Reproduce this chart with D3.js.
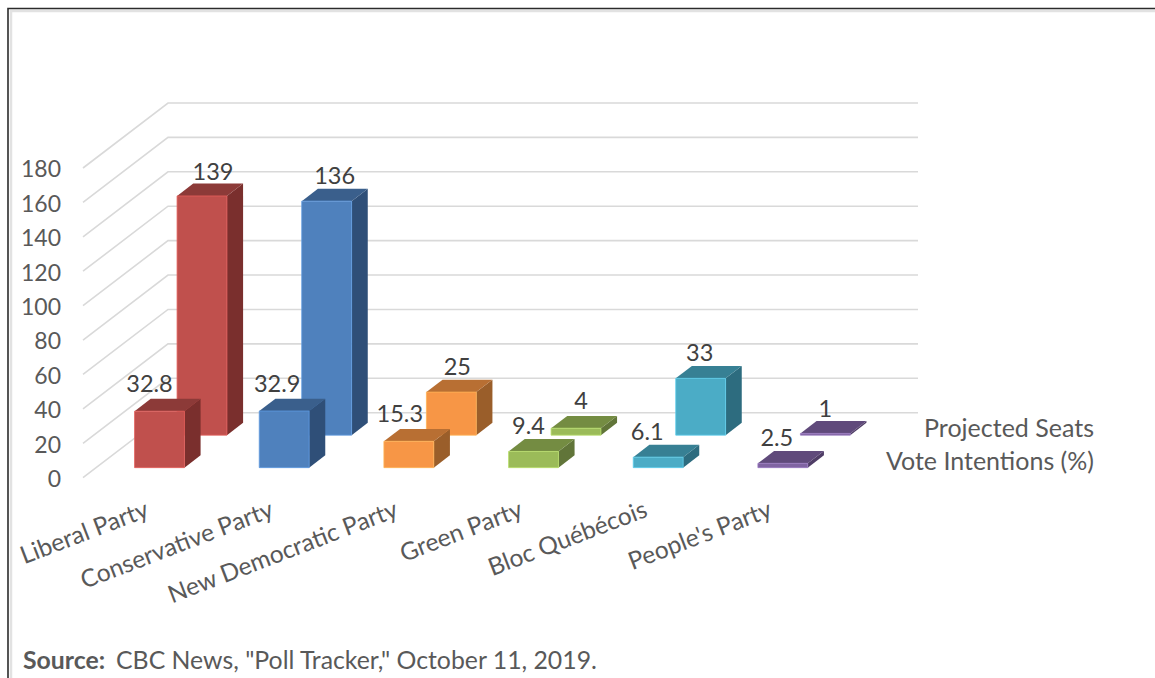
<!DOCTYPE html>
<html>
<head>
<meta charset="utf-8">
<script src="https://cdn.jsdelivr.net/npm/d3@7"></script>
<style>
  html, body { margin: 0; padding: 0; background: #fff; overflow: hidden; }
  text { font-family: Lato, "Open Sans", sans-serif; }
</style>
</head>
<body>
<div id="chart"></div>
<script>
const parties = ["Liberal Party", "Conservative Party", "New Democratic Party", "Green Party", "Bloc Québécois", "People's Party"];
const voteIntentions = [32.8, 32.9, 15.3, 9.4, 6.1, 2.5];
const projectedSeats = [139, 136, 25, 4, 33, 1];
const seriesNames = ["Vote Intentions (%)", "Projected Seats"];
const yTicks = [0, 20, 40, 60, 80, 100, 120, 140, 160, 180];

// front / top / side face per party
const faceColors = ["#C0504D", "#4F81BD", "#F79646", "#9BBB59", "#4BACC6", "#8064A2"];
const topColors = ["#8C3A38", "#3A5F8C", "#B86F33", "#748C42", "#378094", "#604A7B"];
const sideColors = ["#7A2F2D", "#2F4F78", "#9A5E2A", "#617539", "#2D6C7F", "#4F3D66"];

// data labels were hand placed in the original, so nudge them off the bar centre
const voteLabelNudge = [[-10, -19], [-7, -19], [-9, -19], [-5, -17], [-11, -17], [-6, -17]];
const seatLabelNudge = [[11, -16], [8, -17], [6, -17], [5, -19], [-1, -17], [0, -16]];

const width = 1155, height = 678;
const wallDx = 85, wallDy = -65;

const svg = d3.select("#chart").append("svg")
    .attr("width", width).attr("height", height)
    .attr("viewBox", `0 0 ${width} ${height}`);

const x = d3.scaleBand().domain(parties).range([84, 832]).paddingInner(0.6).paddingOuter(0.3);
const y = d3.scaleLinear().domain([0, 180]).range([477.7, 168]);
const depth = d3.scaleBand().domain(seriesNames).range([0, 1]).paddingInner(0.62).paddingOuter(0.31);

// oblique projection: d is 0 at the front of the floor and 1 at the back wall
const px = (xv, d) => xv + d * wallDx;
const py = (v, d) => y(v) + d * wallDy;
const poly = pts => pts.map(p => p.join(",")).join(" ");

// frame, with the pale shadow just inside it
svg.append("path")
    .attr("d", `M${width},11H11V${height}`)
    .attr("fill", "none").attr("stroke", "#E2E2E2").attr("stroke-width", 2.5);
svg.append("path")
    .attr("d", `M${width},8.5H8V${height}`)
    .attr("fill", "none").attr("stroke", "#2b2b2b").attr("stroke-width", 1.6);

// walls
const grid = svg.append("g").attr("fill", "none").attr("stroke", "#D9D9D9").attr("stroke-width", 1.6);
yTicks.forEach(t => {
    grid.append("path").attr("d", d3.line()([
        [px(x.range()[0], 0) - 1, py(t, 0)],
        [px(x.range()[0], 1) - 1, py(t, 1)],
        [px(x.range()[1], 1) + 1, py(t, 1)]
    ]));
});

// y axis
const yAxis = svg.append("g")
    .attr("transform", "translate(68,1.5)")
    .call(d3.axisLeft(y).tickValues(yTicks).tickSize(0).tickPadding(7));
yAxis.select(".domain").remove();
yAxis.selectAll("text").attr("fill", "#595959").attr("font-size", 23).attr("font-family", null);

function drawBars(seriesName, values, nudge) {
    const d0 = depth(seriesName);
    const d1 = d0 + depth.bandwidth();
    const g = svg.append("g");
    values.forEach((v, i) => {
        const left = x(parties[i]);
        const right = left + x.bandwidth();
        const bar = g.append("g");
        bar.append("polygon")
            .attr("fill", sideColors[i])
            .attr("points", poly([
                [px(right, d0), py(0, d0)], [px(right, d1), py(0, d1)],
                [px(right, d1), py(v, d1)], [px(right, d0), py(v, d0)]
            ]));
        bar.append("polygon")
            .attr("fill", topColors[i])
            .attr("points", poly([
                [px(left, d0), py(v, d0)], [px(right, d0), py(v, d0)],
                [px(right, d1), py(v, d1)], [px(left, d1), py(v, d1)]
            ]));
        bar.append("polygon")
            .attr("fill", faceColors[i])
            .attr("stroke", d3.color(faceColors[i]).brighter(0.5))
            .attr("stroke-width", 0.8)
            .attr("points", poly([
                [px(left, d0), py(0, d0)], [px(right, d0), py(0, d0)],
                [px(right, d0), py(v, d0)], [px(left, d0), py(v, d0)]
            ]));
    });
    return { d0, values, nudge };
}

function drawLabels(s) {
    svg.append("g").selectAll("text").data(s.values).join("text")
        .attr("x", (v, i) => px(x(parties[i]) + x.bandwidth() / 2, s.d0) + s.nudge[i][0])
        .attr("y", (v, i) => py(v, s.d0) + s.nudge[i][1])
        .attr("text-anchor", "middle")
        .attr("font-size", 23.5)
        .attr("fill", "#404040")
        .text(v => v);
}

const back = drawBars(seriesNames[1], projectedSeats, seatLabelNudge);
const front = drawBars(seriesNames[0], voteIntentions, voteLabelNudge);
drawLabels(back);
drawLabels(front);

// category labels, rotated along the floor
svg.append("g").selectAll("text").data(parties).join("text")
    .attr("text-anchor", "end")
    .attr("font-size", 24.5)
    .attr("fill", "#595959")
    .attr("transform", d => `translate(${x(d) + x.bandwidth() - 21},${516}) rotate(-21)`)
    .text(d => d);

// series names at the right of the floor
svg.append("g").selectAll("text").data(seriesNames).join("text")
    .attr("text-anchor", "end")
    .attr("x", 1094)
    .attr("y", d => py(0, depth(d)) + 2)
    .attr("font-size", 25)
    .attr("fill", "#595959")
    .text(d => d);

const source = svg.append("text").attr("x", 23).attr("y", 669).attr("font-size", 24.8).attr("fill", "#595959");
source.append("tspan").attr("font-weight", 700).text("Source:");
source.append("tspan").attr("dx", 11).text("CBC News, \"Poll Tracker,\" October 11, 2019.");
</script>
</body>
</html>
